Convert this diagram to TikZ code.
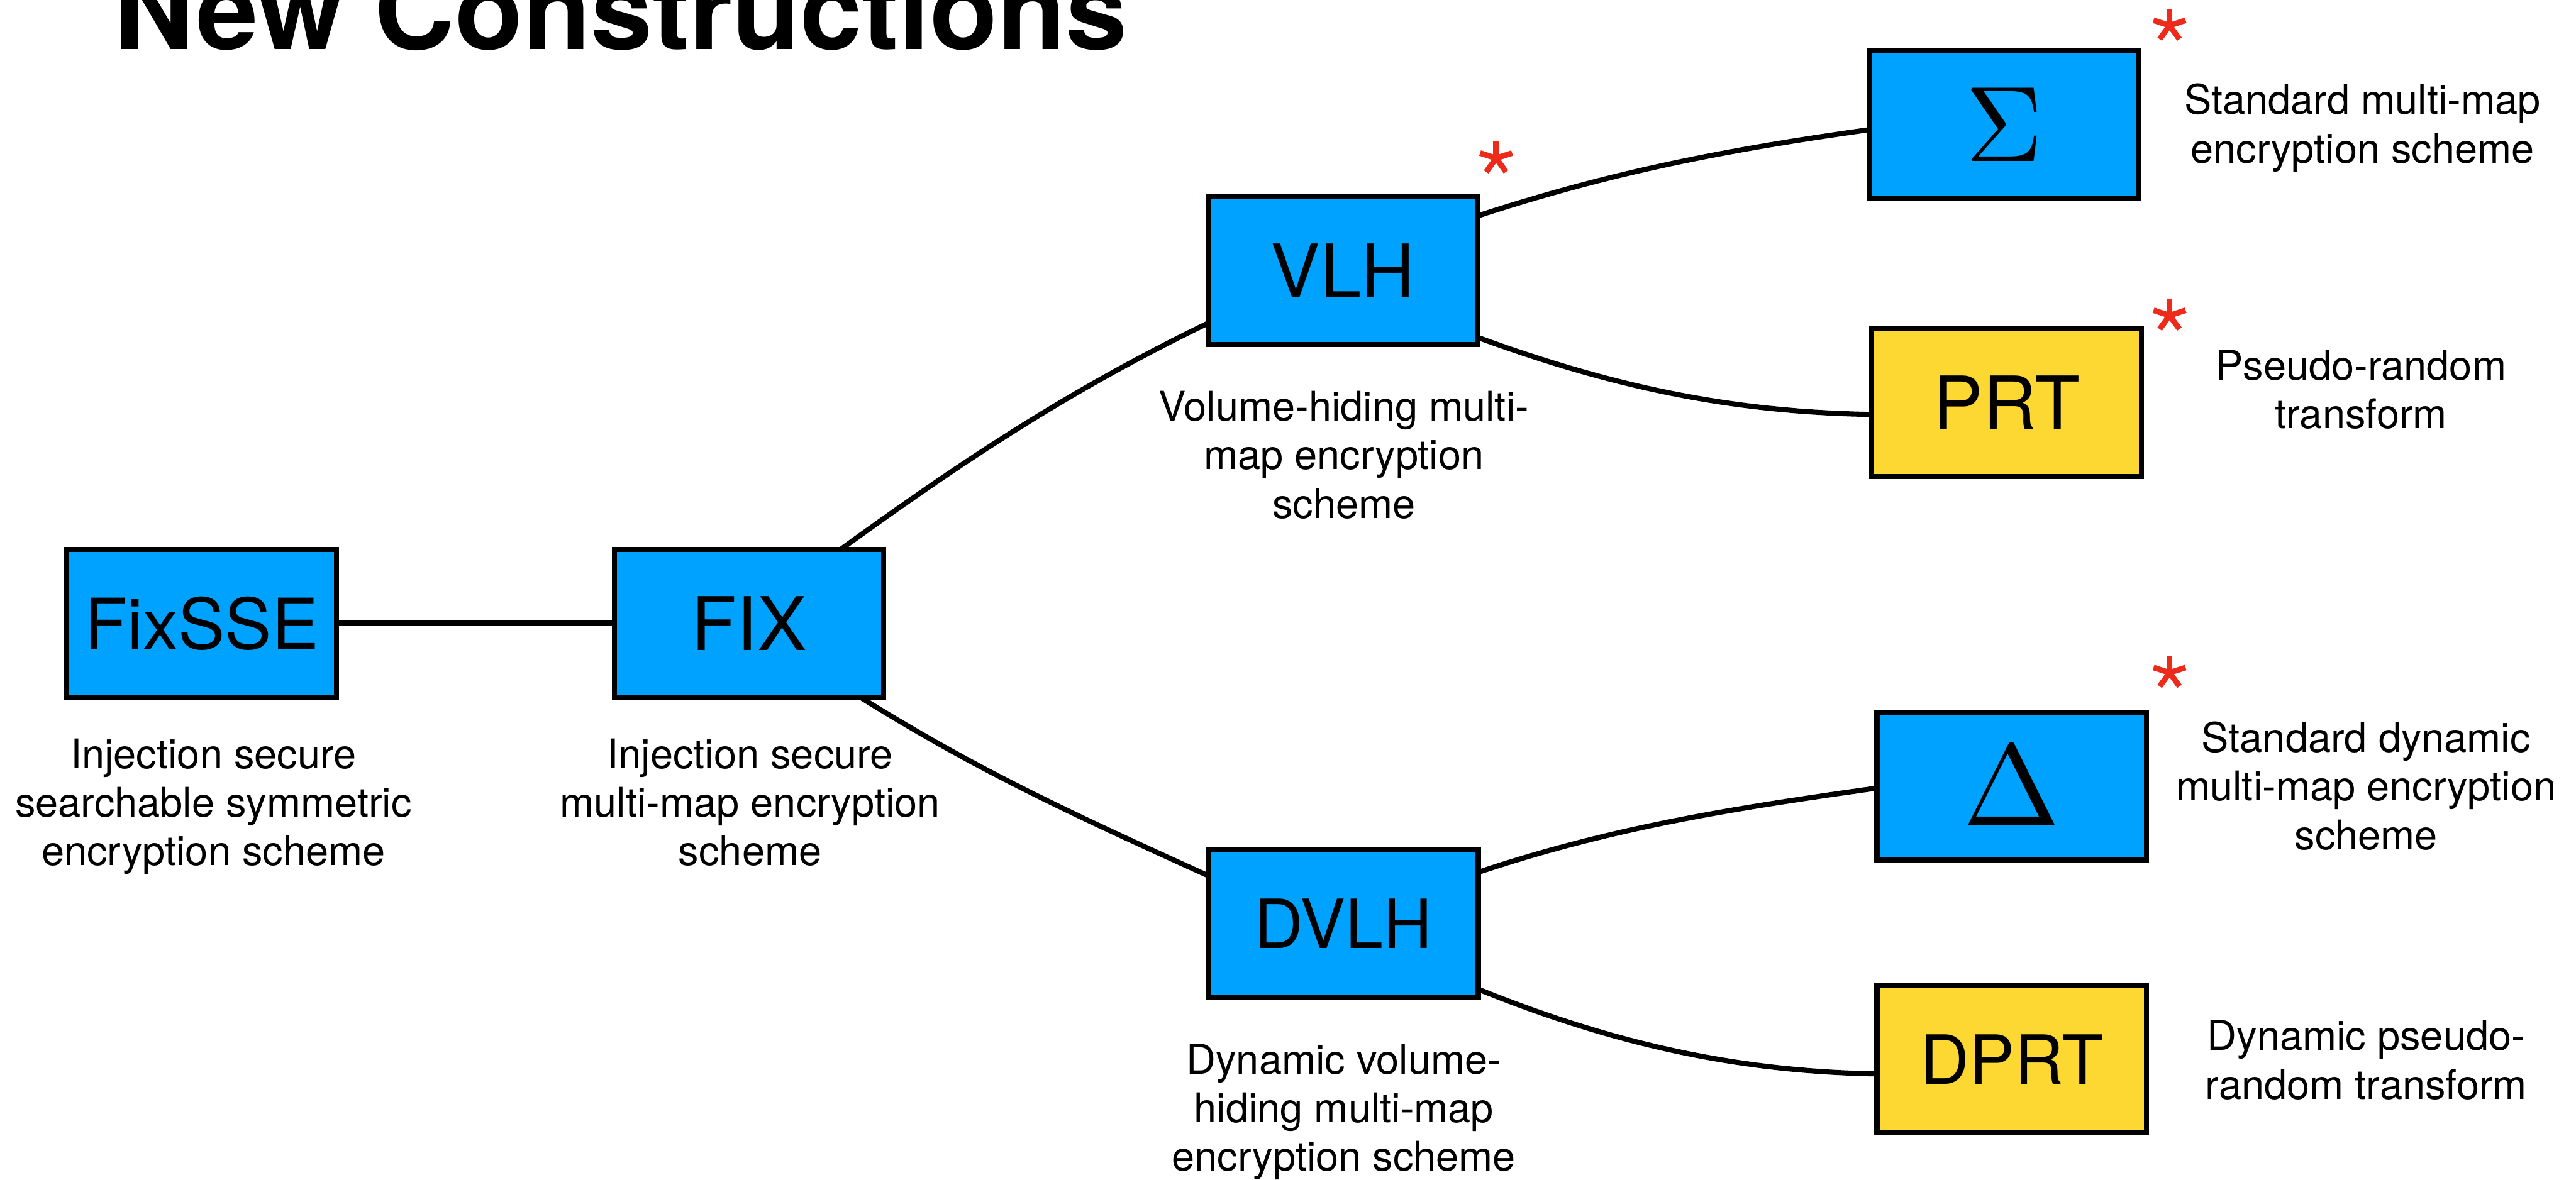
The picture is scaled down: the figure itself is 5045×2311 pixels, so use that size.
\documentclass[tikz,border=0pt]{standalone}
\usepackage[no-math]{fontspec}
\setmainfont{TeX Gyre Heros}
\usetikzlibrary{calc,backgrounds}
\definecolor{kblue}{RGB}{0,162,255}
\definecolor{kyellow}{RGB}{254,216,50}
\definecolor{kred}{RGB}{238,42,27}
\begin{document}
\begin{tikzpicture}[x=0.2pt,y=-0.2pt,
  box/.style={draw=black,line width=2pt,minimum width=105.6pt,minimum height=58pt,inner sep=0pt,outer sep=0pt},
  bluebox/.style={box,fill=kblue},
  yellowbox/.style={box,fill=kyellow},
  desc/.style={align=center,font=\fontsize{16}{19}\selectfont,inner sep=0pt,anchor=base},
  conn/.style={line width=2pt,black},
  starline/.style={kred,line width=2.2pt},
  redstar/.pic={\foreach \a in {270,342,198,126,54} \draw[starline] (0,0) -- (\a:33);}]
\useasboundingbox (0,0) rectangle (5045,2311);

\node[anchor=base west,inner sep=0pt,font=\fontsize{43.5}{50}\selectfont\bfseries] (title) at (222,97) {New Constructions};

\node[bluebox,font=\fontsize{27.5}{30}\selectfont] (fixsse) at (395,1221) {FixSSE};
\node[bluebox,font=\fontsize{29}{30}\selectfont] (fix) at (1467,1221) {FIX};
\node[bluebox,font=\fontsize{29}{30}\selectfont] (vlh) at (2630,530) {VLH};
\node[bluebox,font=\fontsize{26.6}{30}\selectfont] (dvlh) at (2631,1810) {DVLH};
\node[bluebox] (sigma) at (3925,244) {\scalebox{4.2}{$\Sigma$}};
\node[yellowbox,font=\fontsize{29}{30}\selectfont] (prt) at (3930,789) {PRT};
\node[bluebox] (delta) at (3940,1540) {\scalebox{4.57}{$\Delta$}};
\node[yellowbox,font=\fontsize{26.6}{30}\selectfont] (dprt) at (3940,2075) {DPRT};

\begin{pgfonlayer}{background}
\draw[conn] (fixsse.east) -- (fix.west);
\draw[conn] ($(fix.north)+(180,0)$) .. controls +(243,-176) and +(-270,131) .. ($(vlh.west)+(0,103)$);
\draw[conn] ($(fix.south)+(218,0)$) .. controls +(237,148) and +(-255,-116) .. ($(dvlh.west)+(0,-94)$);
\draw[conn] ($(vlh.east)+(0,-107)$) .. controls +(266,-87) and +(-277,39) .. ($(sigma.west)+(0,10)$);
\draw[conn] ($(vlh.east)+(0,131)$) .. controls +(263,96) and +(-280,-5) .. ($(prt.west)+(0,23)$);
\draw[conn] ($(dvlh.east)+(0,-101)$) .. controls +(266,-89) and +(-277,39) .. ($(delta.west)+(0,4)$);
\draw[conn] ($(dvlh.east)+(0,128)$) .. controls +(260,105) and +(-280,-5) .. ($(dprt.west)+(0,29)$);
\end{pgfonlayer}

% anchor=base of a multi-line node sits on its last line
\node[desc] (fixsseL) at (418,1696) {Injection secure\\searchable symmetric\\encryption scheme};
\node[desc] (fixL) at (1469,1696) {Injection secure\\multi-map encryption\\scheme};
\node[desc] (vlhL) at (2632,1015) {Volume-hiding multi-\\map encryption\\scheme};
\node[desc] (dvlhL) at (2632,2294) {Dynamic volume-\\hiding multi-map\\encryption scheme};
\node[desc] (sigmaL) at (4627,319) {Standard multi-map\\encryption scheme};
\node[desc] (prtL) at (4624,839) {Pseudo-random\\transform};
\node[desc] (deltaL) at (4634,1664) {Standard dynamic\\multi-map encryption\\scheme};
\node[desc] (dprtL) at (4634,2153) {Dynamic pseudo-\\random transform};

\pic at (2930,310) {redstar};
\pic at (4249,50) {redstar};
\pic at (4249,618) {redstar};
\pic at (4249,1318) {redstar};
\end{tikzpicture}
\end{document}
